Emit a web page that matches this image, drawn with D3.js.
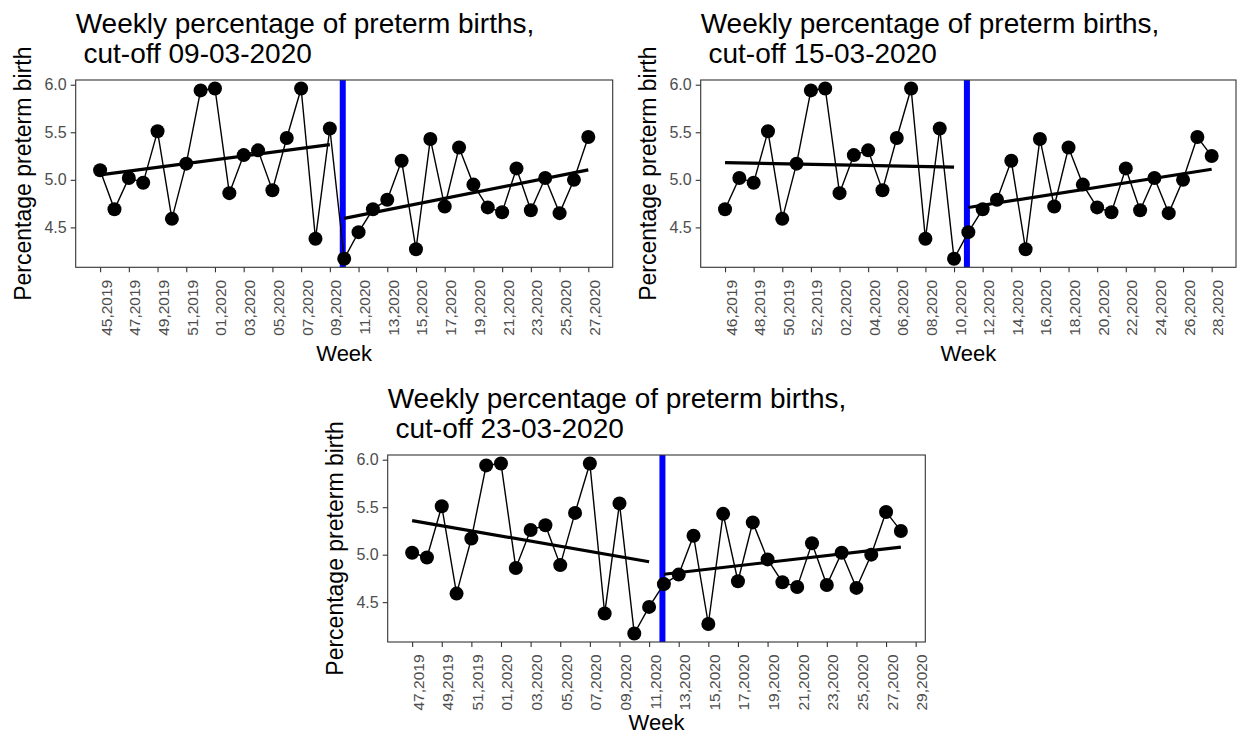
<!DOCTYPE html>
<html>
<head>
<meta charset="utf-8">
<script src="https://cdn.jsdelivr.net/npm/d3@7"></script>
<style>
  body { margin: 0; background: #fff; }
  text { font-family: "Liberation Sans", Arial, sans-serif; }
</style>
</head>
<body>
<script>
// week labels, 45,2019 .. 29,2020
var weeks = ["45,2019", "46,2019", "47,2019", "48,2019", "49,2019", "50,2019", "51,2019", "52,2019",
    "01,2020", "02,2020", "03,2020", "04,2020", "05,2020", "06,2020", "07,2020", "08,2020", "09,2020",
    "10,2020", "11,2020", "12,2020", "13,2020", "14,2020", "15,2020", "16,2020", "17,2020", "18,2020",
    "19,2020", "20,2020", "21,2020", "22,2020", "23,2020", "24,2020", "25,2020", "26,2020", "27,2020",
    "28,2020", "29,2020"];

// weekly percentage of preterm births, 45,2019 .. 28,2020
var pct = [5.10, 4.69, 5.02, 4.97, 5.51, 4.59, 5.17, 5.94,
    5.96, 4.86, 5.26, 5.31, 4.89, 5.44, 5.96, 4.38, 5.54,
    4.17, 4.45, 4.69, 4.79, 5.20, 4.27, 5.43, 4.72, 5.34,
    4.95, 4.71, 4.66, 5.12, 4.68, 5.02, 4.65, 5.00, 5.45,
    5.25];

// one entry per panel
var cutoffs = ["09-03-2020", "15-03-2020", "23-03-2020"];
var firstWeek = ["45,2019", "46,2019", "47,2019"];
var lastWeek = ["27,2020", "28,2020", "28,2020"];
var firstPostWeek = ["10,2020", "11,2020", "12,2020"];

var yTicks = [4.5, 5.0, 5.5, 6.0];

// panel boxes
var boxes = [
    {x0: 75.7, x1: 612.7, y0: 80, y1: 267.3},
    {x0: 700.7, x1: 1236, y0: 80, y1: 267.3},
    {x0: 387.7, x1: 925.3, y0: 455, y1: 642}
];

var svg = d3.select("body").append("svg")
    .attr("width", 1238)
    .attr("height", 737);

// simple least squares
function fit(xs, ys) {
    var mx = d3.mean(xs), my = d3.mean(ys);
    var sxy = 0, sxx = 0;
    for (var k = 0; k < xs.length; k++) {
        sxy += (xs[k] - mx) * (ys[k] - my);
        sxx += (xs[k] - mx) * (xs[k] - mx);
    }
    var b = sxy / sxx;
    return function(x) { return my + b * (x - mx); };
}

function drawPanel(p) {
    var box = boxes[p];
    var start = weeks.indexOf(firstWeek[p]);
    var end = weeks.indexOf(lastWeek[p]);
    var cut = weeks.indexOf(firstPostWeek[p]);
    var idx = d3.range(start, end + 1);
    var vals = idx.map(function(i) { return pct[i]; });

    var xpad = 0.05 * (end - start);
    var x = d3.scaleLinear().domain([start - xpad, end + xpad]).range([box.x0, box.x1]);
    var ymin = d3.min(vals), ymax = d3.max(vals), ypad = 0.05 * (ymax - ymin);
    var y = d3.scaleLinear().domain([ymin - ypad, ymax + ypad]).range([box.y1, box.y0]);

    var g = svg.append("g");

    // title
    var title = g.append("text")
        .attr("x", box.x0)
        .attr("y", box.y0 - 47)
        .style("font-size", "28px")
        .attr("fill", "#000");
    title.append("tspan").attr("x", box.x0).text("Weekly percentage of preterm births,");
    title.append("tspan").attr("x", box.x0).attr("dy", 30).text("\u00a0cut-off " + cutoffs[p]);

    // cut-off line
    g.append("line")
        .attr("x1", x(cut - 0.1)).attr("x2", x(cut - 0.1))
        .attr("y1", box.y0).attr("y2", box.y1)
        .attr("stroke", "#0000FF")
        .attr("stroke-width", 6);

    // weekly line
    var line = d3.line()
        .x(function(i) { return x(i); })
        .y(function(i) { return y(pct[i]); });
    g.append("path")
        .datum(idx)
        .attr("d", line)
        .attr("fill", "none")
        .attr("stroke", "#000")
        .attr("stroke-width", 1.4);

    // regression lines before and after cut-off
    var pre = d3.range(start, cut);
    var post = d3.range(cut, end + 1);
    [pre, post].forEach(function(seg) {
        var f = fit(seg, seg.map(function(i) { return pct[i]; }));
        var a = seg[0], b = seg[seg.length - 1];
        g.append("line")
            .attr("x1", x(a)).attr("y1", y(f(a)))
            .attr("x2", x(b)).attr("y2", y(f(b)))
            .attr("stroke", "#000")
            .attr("stroke-width", 3.2);
    });

    // points
    g.selectAll("circle")
        .data(idx)
        .enter()
        .append("circle")
        .attr("cx", function(i) { return x(i); })
        .attr("cy", function(i) { return y(pct[i]); })
        .attr("r", 7)
        .attr("fill", "#000");

    // panel border
    g.append("rect")
        .attr("x", box.x0).attr("y", box.y0)
        .attr("width", box.x1 - box.x0).attr("height", box.y1 - box.y0)
        .attr("fill", "none")
        .attr("stroke", "#333333")
        .attr("stroke-width", 1.1);

    // x axis
    var ticks = d3.range(start, Math.min(end + xpad, weeks.length - 1) + 1e-9, 2);
    var xAxis = g.append("g")
        .attr("transform", "translate(0," + box.y1 + ")")
        .call(d3.axisBottom(x).tickValues(ticks).tickFormat(function(i) { return weeks[i]; }).tickSize(5));
    xAxis.select(".domain").remove();
    xAxis.selectAll("line").attr("stroke", "#333333").attr("stroke-width", 1.1);
    xAxis.selectAll("text")
        .attr("transform", "rotate(-90)")
        .attr("x", -12.5)
        .attr("y", 11)
        .attr("dy", 0)
        .style("text-anchor", "end")
        .style("font-size", "15.5px")
        .attr("fill", "#4D4D4D");

    // y axis
    var yAxis = g.append("g")
        .attr("transform", "translate(" + box.x0 + ",0)")
        .call(d3.axisLeft(y).tickValues(yTicks).tickFormat(d3.format(".1f")).tickSize(5).tickPadding(4));
    yAxis.select(".domain").remove();
    yAxis.selectAll("line").attr("stroke", "#333333").attr("stroke-width", 1.1);
    yAxis.selectAll("text")
        .style("font-size", "16px")
        .attr("fill", "#4D4D4D");

    // axis titles (bottom one kept inside the page)
    g.append("text")
        .attr("x", (box.x0 + box.x1) / 2)
        .attr("y", Math.min(box.y1 + 94, 730))
        .attr("text-anchor", "middle")
        .style("font-size", "22px")
        .text("Week");

    g.append("text")
        .attr("transform", "translate(" + (box.x0 - 44.7) + "," + ((box.y0 + box.y1) / 2) + ") rotate(-90)")
        .attr("text-anchor", "middle")
        .style("font-size", "23px")
        .text("Percentage preterm birth");
}

for (var p = 0; p < boxes.length; p++) {
    drawPanel(p);
}
</script>
</body>
</html>
